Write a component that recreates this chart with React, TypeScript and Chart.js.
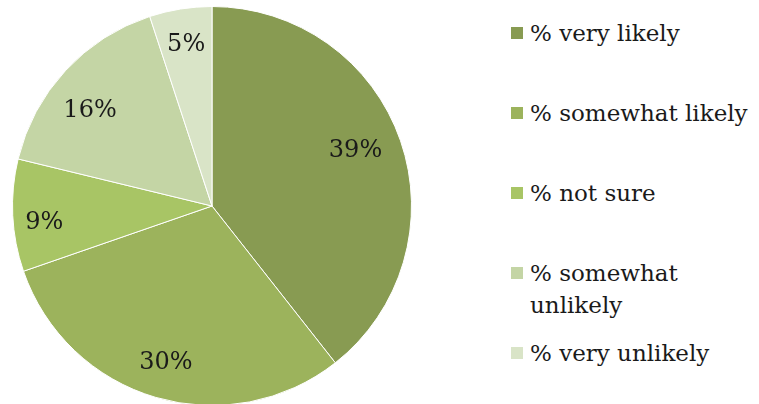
import React, { useEffect, useRef } from "react";
import { Chart, registerables } from "chart.js";

Chart.register(...registerables);

const categories = ["% very likely", "% somewhat likely", "% not sure", "% somewhat unlikely", "% very unlikely"];
const legendLines = [["% very likely"], ["% somewhat likely"], ["% not sure"], ["% somewhat", "unlikely"], ["% very unlikely"]];
const values = [39, 30, 9, 16, 5];
const valueLabels = ["39%", "30%", "9%", "16%", "5%"];
const colors = ["#889b52", "#9cb35c", "#a8c565", "#c4d5a5", "#d9e4c7"];
const labelRadius = [0.77, 0.82, 0.845, 0.775, 0.82];
const labelAngleShift = [-1.8, 0, -3.1, -4.8, 0];
const legendTops = [17, 97, 177, 257, 337];

const FONT = "'DejaVu Serif', serif";

const labelPlugin = {
  id: "sliceLabels",
  afterDatasetsDraw(chart: any) {
    const ctx = chart.ctx;
    const meta = chart.getDatasetMeta(0);
    ctx.save();
    ctx.font = `24px ${FONT}`;
    ctx.fillStyle = "#1a1a1a";
    ctx.textAlign = "center";
    ctx.textBaseline = "middle";
    meta.data.forEach((arc: any, i: number) => {
      const p = arc.getProps(["x", "y", "startAngle", "endAngle", "outerRadius"], true);
      const mid = (p.startAngle + p.endAngle) / 2 + (labelAngleShift[i] * Math.PI) / 180;
      const r = p.outerRadius * labelRadius[i];
      ctx.fillText(valueLabels[i], p.x + Math.cos(mid) * r, p.y + Math.sin(mid) * r);
    });
    ctx.restore();
  },
};

export default function App() {
  const ref = useRef<HTMLCanvasElement | null>(null);
  useEffect(() => {
    document.body.style.margin = "0";
    const chart = new Chart(ref.current as HTMLCanvasElement, {
      type: "pie",
      data: {
        labels: categories,
        datasets: [
          {
            data: values,
            backgroundColor: colors,
            borderColor: "#ffffff",
            borderWidth: 1,
          },
        ],
      },
      options: {
        animation: false,
        responsive: false,
        maintainAspectRatio: false,
        layout: { padding: { left: 12, right: 12, top: 6, bottom: 6 } },
        plugins: { legend: { display: false }, tooltip: { enabled: false } },
      },
      plugins: [labelPlugin],
    });
    return () => chart.destroy();
  }, []);

  return (
    <div style={{ position: "relative", width: 759, height: 404, background: "#fff", overflow: "hidden" }}>
      <canvas ref={ref} width={424} height={412} style={{ position: "absolute", left: 0, top: 0 }} />
      {legendLines.map((lines, i) => (
        <div
          key={i}
          style={{
            position: "absolute",
            left: 511,
            top: legendTops[i],
            display: "flex",
            alignItems: "flex-start",
            fontFamily: FONT,
            fontSize: 23,
            lineHeight: "32px",
            color: "#1a1a1a",
          }}
        >
          <div style={{ width: 12, height: 12, background: colors[i], marginTop: 10, marginRight: 7 }} />
          <div>
            {lines.map((l, j) => (
              <div key={j} style={{ whiteSpace: "nowrap" }}>{l}</div>
            ))}
          </div>
        </div>
      ))}
    </div>
  );
}
